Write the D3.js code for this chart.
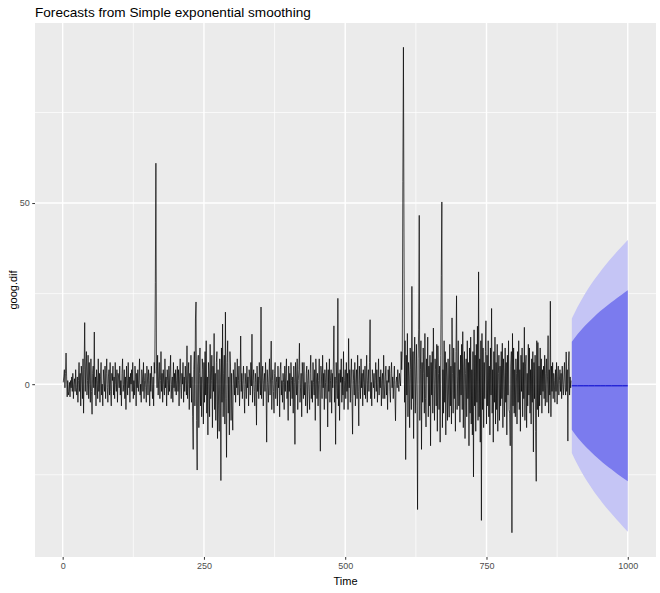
<!DOCTYPE html>
<html>
<head>
<meta charset="utf-8">
<script src="https://cdnjs.cloudflare.com/ajax/libs/d3/7.8.5/d3.min.js"></script>
<style>
    body { margin: 0; background: #ffffff; }
    text { font-family: "Liberation Sans", Arial, sans-serif; }
</style>
</head>
<body>
<div id="svgcontainer"></div>
<script>
// goog.dif, daily differences, starting at time 1
var startTime = 1;
var googDif = [
    0.5, 2, 4, -1, 3, 8.6, 2, -3.5, 1, -3, -2, 0.5, -3.5, 1, -1, 2, -2, 3, -4, 0, 1.5, -2, 4, -1, -3, 2, -5, 1, 6, -2, 3, -6, 5, 2, -4, 7, -8, 4, 17, -2, 5, 9, -3, 1, 8, -4, 6, 0, -5, 7,
    -2, -8.3, 3, 5, -1, 14.4, -3, 2, -6, 4, 1, -4, 7, -2, 3, -5, 2, 6, -3, 0, -6, 4, 1, -2, 5, -4, 3, 7, -1, -5, 2, 4, -3, 6, -2, -6, 3, 1, 5, -3, 2, -4, 6, 0, -2, 4, -5, 3, 2, -1,
    5, -3, 1, -6, 3, 7, -2, 0, 4, -4, 2, -7, 5, 1, -3, 6, -1, 2, -5, 3, 0, 4, -2, 6, -4, 1, -3, 5, 2, -6, 3, -1, 4, -2, 1, 7, -3, 0, -5, 4, 2, -2, 6, -4, 1, 3, -1, -5, 5, 2,
    -3, 4, 1, -6, 3, -2, 5, 0, -4, 2, -6, 6, 3, 28, 61, 5, -1, 8, -3, 2, 6, -4, 1, 9, -2, 3, -5, 4, 0, -3, 7, -1, 2, -6, 4, 1, -3, 5, -2, 3, 8, -4, 0, 2, -5, 6, -1, 3, -2, 4,
    -3, 1, 5, -2, 4, -6, 2, 7, -1, -4, 3, 0, 6, -5, 2, -2, 5, 1, -3, 10.6, -4, 2, 6, -7, 3, -1, 8, -5, 2, -9, -18, 4, 9, -6, 18, 22.7, -10, -23.7, 5, 8, -12, 3, 10, -6, 2, -9, 7, 4, -11, 6,
    -5, 9, -3, 12, -8, 2, -14, 6, 3, -9, 11, -4, 1, 8, -12, 5, -2, 14, -7, 3, -10, 6, 9, -15, 4, -6, -13, 7, 2, -26.6, 10, -5, 16.6, -9, 3, 8, -11, 19.9, -4, -20.2, 6, 12, -8, 2, -14, 9, 5, -10, 3, -6,
    -12.7, 4, 1, -3, 6, -5, 2, -1, 7, -3, 1, 5, -6, 0.5, 13.3, -2, 3, -4, 1, 5, -2, -8, 3, 0, -4, 5, -1, 2, -6, 4, 2, -3, 6, -0.5, 13.8, -5, 1, 4, -2, -6, 3, 0.5, -11.3, 5, -2, 2, -4, 6, 1, -3,
    21.3, -4, 2, 5, -6, 1, 3, -2, 6, -1, -16, 4, 0.5, -5, 2, 7, -3, 2, 11.9, -7, 1, 4, -2, -8, 3, 6, -4, 0.5, 2, -6, 5, -1, 2, -9, 4, 6, -3, 1, -5, 3, 0.5, -7, 5, -2, 3, 7, -4, 1, -10, 5,
    -2, 3, -6, 6, 1, -4, 2, -8, 5, 0.5, -16.6, 6, 2, -3, 7, -7, 1, 4, 11.3, -5, -1, 3, -9, 6, 2, -4, 6, -3, 0.5, -6, 3, 5, -8, 1, 4, -2, -7, 3, 8, -4, 1, -5, 6, 0.5, -3, 4, -10, 7, 2, -4,
    3, -6, 1, 7, -3, -18.5, 5, 2, -4, 8, -1, 3, -7, 4, 0.5, -4, 6, 2, -11.8, 4, -2, 7, -5, 1, 4, -8, 3, -1, 5, 16.1, -5, 2, -16.6, 6, 1, -4, 23.7, -6, 3, -10, 4, 0.5, 7, -5, 2, -3, 9, -7, 1, 4,
    -4, 6, -2, 3, -7, 12.6, -1, 4, -5, 2, 7, -4, -13.8, 4, 1, -3, 6, -6, 0.5, 4, -4, 8, -2, -11.5, 5, 1, -4, 7, -1, 3, -6, 4, 0.5, -3, 5, -4, 2, 8, -5, 1, 4, -2, 6, 17.8, -4, 0.5, -6, 4, 2, -1,
    3, -4, 1, 6, -2, 4, -5, 0.5, 7, -3, 2, -1, 4, -6, 1, 3, -4, 8, -0.5, -4, 2, 5, -3, 1, -7, 4, 0.5, 5, -2, -5, 3, 6, -1, 2, -4, 1, 5, -3, -10.1, 0.5, 2, -1, 4, 0, -2, 3, 1, -0.5, 9, 4,
    9, 56, 93, 42, -5, 12, -20.8, 8, -3, 14, -9, 6, 2, -12, 10, 4, -7, 27, -4, 9, -15, 5, 13, -8, 2, 11, -6, -34.6, 7, 15, 46.6, -10, 4, 12, -18, 6, -5, 10, 3, -8, 14, -4, -11.8, 7, 2, 13, -9, 5, -6, 8,
    -17, 6, -3, 9, -8, 15.5, 2, -10, 7, 4, -6, 11, -13, 10.6, 3, -7, 5, -16, 8, 30, 50.3, -12, 4, -8, 12, -5, 9, -14, 6, 2, -10, 7, -3, -9.1, 11, -6, 5, -11, 18.3, 3, -8, 10, -4, 6, -13, 9, 24.4, -7, 2, 12,
    -6, 4, -10.5, 8, -3, 11, -7, 14.5, -12, 5, 9, -15, 3, 7, -9, 12, -4, 6, -17, 10, -8, 13, -11, 4, -14, 9, -25.6, 15, -6, 8, -13, 11, -5, 16, -10, 31, -9, 7, -16, 12, -37.6, 14, -7, 10, -12, 6, -4, 9, 17.5, -11,
    8, -6, 12, -9, 5, -14, 10, -3, 20.9, -8, 4, -16, 9, -5, 13, -11, 6, -7, 11, -13, 3, 8, -10, 5, -6, 9, -4, 11.3, -12, 7, 2, -9, 10, -5, 6, -14, 8, -3, 12, -7, -8, -17, 5, 9, -41, 14, -6, 10, -8, 4,
    -9, 7, 3, -11, 9, -5, 12, -7, 4, -13, 8, -2, 10, -9, 6, -4, 15.7, -10, 5, 8, -12, 3, -6, 11, -3, 10, -8, 4, -11, 7, -5, 9, -18.7, 6, -4, 8, -13, -26.8, 12, -7, 11.5, -9, 5, -6, 10, -3, 7, -8, 4, -2,
    5, -4, 8, -6, 3, 7, -5, 2, 13.4, -8, 4, -3, 22.9, -9, 5, -2, 6, -4, 3, 1, -5, 4, -2, 6, -5.5, 2, 5, -3, 1, 4, -2, 3, -4, 5, 0, -3, 2, 6, -1, -3, 8.9, -2, 4, -15.7, 5, 9, -3, 2, -1, 1
];

var fcTime = [901, 911, 921, 931, 941, 951, 961, 971, 981, 991, 1000];
var fcMean = [-0.45, -0.45, -0.45, -0.45, -0.45, -0.45, -0.45, -0.45, -0.45, -0.45, -0.45];
var upper80 = [11.7, 13.8, 15.6, 17.2, 18.7, 20.1, 21.4, 22.6, 23.8, 24.9, 25.9];
var lower80 = [-12.6, -14.7, -16.5, -18.1, -19.6, -21.0, -22.3, -23.5, -24.7, -25.8, -26.8];
var upper95 = [18.1, 21.3, 24.1, 26.6, 28.9, 31.0, 33.0, 34.8, 36.6, 38.3, 39.8];
var lower95 = [-19.0, -22.2, -25.0, -27.5, -29.8, -31.9, -33.9, -35.7, -37.5, -39.2, -40.7];

var xTicks = [0, 250, 500, 750, 1000];
var xMinor = [125, 375, 625, 875];
var yTicks = [0, 50];
var yMinor = [-25, 25, 75];

function createSvg() {
    var width = 660;
    var height = 593;
    var panel = { left: 35, right: 656, top: 23, bottom: 557 };

    var svg = d3.select("#svgcontainer")
        .append("svg")
        .attr("width", width)
        .attr("height", height);

    // series + forecast rows
    var series = googDif.map(function (v, i) { return { t: startTime + i, v: v }; });
    var fc = fcTime.map(function (t, i) {
        return { t: t, m: fcMean[i], lo80: lower80[i], hi80: upper80[i], lo95: lower95[i], hi95: upper95[i] };
    });

    // ggplot style 5% expansion
    var tMin = startTime, tMax = d3.max(fcTime);
    var tPad = (tMax - tMin) * 0.05;
    var vMin = Math.min(d3.min(googDif), d3.min(lower95));
    var vMax = Math.max(d3.max(googDif), d3.max(upper95));
    var vPad = (vMax - vMin) * 0.05;

    var x = d3.scaleLinear().domain([tMin - tPad, tMax + tPad]).range([panel.left, panel.right]);
    var y = d3.scaleLinear().domain([vMin - vPad, vMax + vPad]).range([panel.bottom, panel.top]);

    svg.append("rect")
        .attr("x", panel.left)
        .attr("y", panel.top)
        .attr("width", panel.right - panel.left)
        .attr("height", panel.bottom - panel.top)
        .attr("fill", "#EBEBEB");

    // grid
    svg.selectAll(".xminor").data(xMinor).enter().append("line")
        .attr("x1", d => x(d)).attr("x2", d => x(d))
        .attr("y1", panel.top).attr("y2", panel.bottom)
        .style("stroke", "#ffffff").style("stroke-width", 0.7);
    svg.selectAll(".yminor").data(yMinor).enter().append("line")
        .attr("x1", panel.left).attr("x2", panel.right)
        .attr("y1", d => y(d)).attr("y2", d => y(d))
        .style("stroke", "#ffffff").style("stroke-width", 0.7);
    svg.selectAll(".xmajor").data(xTicks).enter().append("line")
        .attr("x1", d => x(d)).attr("x2", d => x(d))
        .attr("y1", panel.top).attr("y2", panel.bottom)
        .style("stroke", "#ffffff").style("stroke-width", 1.4);
    svg.selectAll(".ymajor").data(yTicks).enter().append("line")
        .attr("x1", panel.left).attr("x2", panel.right)
        .attr("y1", d => y(d)).attr("y2", d => y(d))
        .style("stroke", "#ffffff").style("stroke-width", 1.4);

    // data line
    var line = d3.line()
        .x(d => x(d.t))
        .y(d => y(d.v));
    svg.append("path")
        .datum(series)
        .attr("d", line)
        .attr("fill", "none")
        .style("stroke", "#000000")
        .style("stroke-width", 0.7);

    // prediction intervals
    var area95 = d3.area().curve(d3.curveMonotoneX)
        .x(d => x(d.t)).y0(d => y(d.lo95)).y1(d => y(d.hi95));
    var area80 = d3.area().curve(d3.curveMonotoneX)
        .x(d => x(d.t)).y0(d => y(d.lo80)).y1(d => y(d.hi80));
    svg.append("path").datum(fc).attr("d", area95).attr("fill", "#C5C5F5");
    svg.append("path").datum(fc).attr("d", area80).attr("fill", "#7B7BEE");

    var fcLine = d3.line().x(d => x(d.t)).y(d => y(d.m));
    svg.append("path")
        .datum(fc)
        .attr("d", fcLine)
        .attr("fill", "none")
        .style("stroke", "#0000CC")
        .style("stroke-width", 1);

    // axes
    var xAxis = svg.append("g")
        .attr("transform", "translate(0," + panel.bottom + ")")
        .call(d3.axisBottom(x).tickValues(xTicks).tickSize(2.75).tickPadding(2.5).tickFormat(d3.format("d")));
    var yAxis = svg.append("g")
        .attr("transform", "translate(" + panel.left + ",0)")
        .call(d3.axisLeft(y).tickValues(yTicks).tickSize(2.75).tickPadding(2.5).tickFormat(d3.format("d")));
    [xAxis, yAxis].forEach(function (a) {
        a.select(".domain").remove();
        a.selectAll(".tick line").style("stroke", "#333333").style("stroke-width", 1);
        a.selectAll(".tick text")
            .style("fill", "#4D4D4D")
            .style("font-size", "9px")
            .style("font-family", "'Liberation Sans', Arial, sans-serif");
    });

    // titles
    svg.append("text")
        .attr("x", panel.left)
        .attr("y", 17)
        .style("font-size", "13.6px")
        .style("fill", "#000000")
        .text("Forecasts from Simple exponential smoothing");
    svg.append("text")
        .attr("x", (panel.left + panel.right) / 2)
        .attr("y", 585)
        .attr("text-anchor", "middle")
        .style("font-size", "11px")
        .text("Time");
    svg.append("text")
        .attr("transform", "translate(17," + ((panel.top + panel.bottom) / 2) + ") rotate(-90)")
        .attr("text-anchor", "middle")
        .style("font-size", "11px")
        .text("goog.dif");
}

createSvg();
</script>
</body>
</html>
